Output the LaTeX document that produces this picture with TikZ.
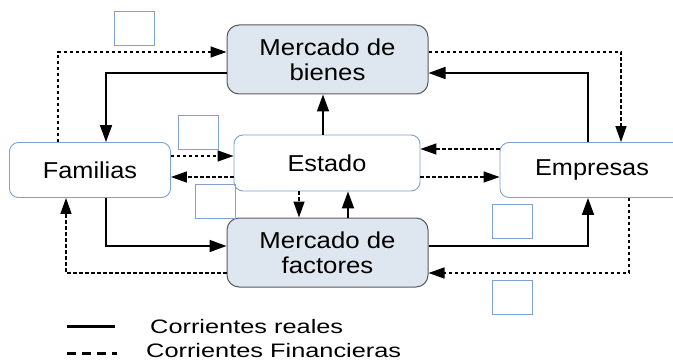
\documentclass[tikz,border=0pt]{standalone}
\usepackage{fontspec}
\setmainfont{Liberation Sans}
\usetikzlibrary{arrows.meta}

\definecolor{cajaazul}{HTML}{7EA1CF}
\definecolor{mercfill}{HTML}{DEE6EF}
\definecolor{mercline}{HTML}{5A5A5A}

\tikzset{
  agente/.style={draw=cajaazul,fill=white,rounded corners=9pt,line width=0.9pt,
                 inner sep=0pt,align=center,font=\fontsize{23}{25}\selectfont},
  mercado/.style={draw=mercline,fill=mercfill,rounded corners=12pt,line width=1pt,
                 minimum width=201pt,minimum height=69pt,inner sep=0pt,align=center,
                 font=\fontsize{23}{25}\selectfont},
  hueco/.style={draw=cajaazul,line width=0.8pt,minimum width=40pt,minimum height=34pt,inner sep=0pt},
  real/.style={line width=1.7pt,-{Triangle[length=17pt,width=12pt]}},
  fin/.style={line width=1.5pt,dash pattern=on 3.5pt off 2.5pt,-{Triangle[length=16pt,width=11pt]}},
  leyenda/.style={anchor=base west,inner sep=0pt,font=\fontsize{19.5}{22}\selectfont}
}

\begin{document}
\begin{tikzpicture}[x=1pt,y=-1pt]
  \useasboundingbox (0,0) rectangle (673,361);
  % helper grid: comment for final drawing
  % \draw[help lines,step=10] (0,0) grid (673,361);

  % boxes
  \node[mercado] (bienes)   at (327.5,59.5)  {\scalebox{1.12}[1]{Mercado de}\\\scalebox{1.12}[1]{bienes}};
  \node[mercado] (factores) at (327.5,252.5) {\scalebox{1.12}[1]{Mercado de}\\\scalebox{1.12}[1]{factores}};
  \node[agente,minimum width=161pt,minimum height=55pt] (familias) at (90,170)  {\scalebox{1.1}[1]{Familias}};
  \node[agente,minimum width=186pt,minimum height=56pt] (estado)   at (327,163) {\scalebox{1.1}[1]{Estado}};
  \node[agente,minimum width=184pt,minimum height=55pt] (empresas) at (592,170) {\scalebox{1.1}[1]{Empresas}};

  % empty squares
  \node[hueco] (h1) at (134.5,28.5)  {};
  \node[hueco] (h2) at (198.5,132)   {};
  \node[hueco] (h3) at (215,201)     {};
  \node[hueco] (h4) at (512,221.5)   {};
  \node[hueco] (h5) at (512,297.5)   {};

  % helper points
  \coordinate (fe1) at ([yshift=14pt]familias.east);
  \coordinate (fe2) at ([yshift=-7pt]familias.east);
  \coordinate (ee1) at ([yshift=21pt]empresas.west);
  \coordinate (ee2) at ([yshift=-7pt]empresas.west);
  \coordinate (ef1) at ([xshift=-28pt]estado.south);
  \coordinate (ef2) at ([xshift=21pt]estado.south);
  \coordinate (eb)  at ([xshift=-4pt]estado.north);

  % market of goods
  \draw[fin]  ([xshift=-32pt]familias.north) |- ([yshift=7.5pt]bienes.west);
  \draw[real] ([yshift=-13.5pt]bienes.west) -| ([xshift=16pt]familias.north);
  \draw[fin]  ([yshift=7.5pt]bienes.east) -| ([xshift=29pt]empresas.north);
  \draw[real] ([xshift=-4pt]empresas.north) |- ([yshift=-13.5pt]bienes.east);
  \draw[real] (eb) -- (eb |- bienes.south);

  % state
  \draw[fin] (fe1) -- (fe1 -| estado.west);
  \draw[fin] (fe2 -| estado.west) -- (fe2);
  \draw[fin] (ee1) -- (ee1 -| estado.east);
  \draw[fin] (ee2 -| estado.east) -- (ee2);
  \draw[fin]  (ef1) -- (ef1 |- factores.north);
  \draw[real] (ef2 |- factores.north) -- (ef2);

  % market of factors
  \draw[real] ([xshift=16pt]familias.south) |- ([yshift=6.5pt]factores.west);
  \draw[fin]  ([yshift=-20.5pt]factores.west) -| ([xshift=-24pt]familias.south);
  \draw[real] ([yshift=6.5pt]factores.east) -| ([xshift=-4pt]empresas.south);
  \draw[fin]  ([xshift=37pt]empresas.south) |- ([yshift=-20.5pt]factores.east);

  % legend
  \draw[line width=3pt] (67,326) -- (115,326);
  \draw[line width=3pt,dash pattern=on 8.5pt off 6.5pt] (67,353) -- (117,353);
  \node[leyenda] (lreal) at (150,333) {\scalebox{1.3}[1]{Corrientes reales}};
  \node[leyenda] (lfin)  at (146,357.5) {\scalebox{1.3}[1]{Corrientes Financieras}};

\end{tikzpicture}
\end{document}
